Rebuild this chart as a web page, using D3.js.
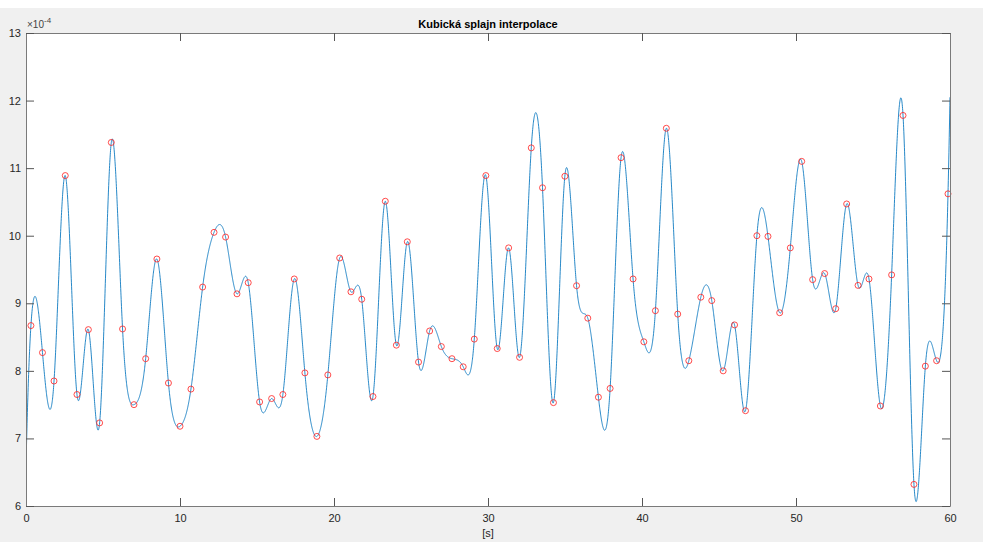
<!DOCTYPE html>
<html>
<head>
<meta charset="utf-8">
<script src="https://cdn.jsdelivr.net/npm/d3@7"></script>
<style>
  html, body { margin: 0; padding: 0; background: #ffffff; }
  svg { display: block; }
  text { font-family: "Liberation Sans", Arial, Helvetica, sans-serif; }
</style>
</head>
<body>
<svg id="chart" width="983" height="542"></svg>
<script>
// ---- data (y in units of 1e-4) ----
const timeValues = [
  0.32, 1.07, 1.82, 2.55, 3.31, 4.05, 4.78, 5.54, 6.27, 7.01,
  7.77, 8.50, 9.25, 10.00, 10.71, 11.47, 12.21, 12.96, 13.70, 14.43,
  15.17, 15.95, 16.68, 17.42, 18.11, 18.89, 19.60, 20.37, 21.10, 21.80,
  22.53, 23.33, 24.05, 24.76, 25.49, 26.21, 26.97, 27.66, 28.39, 29.11,
  29.86, 30.60, 31.34, 32.05, 32.81, 33.54, 34.25, 34.99, 35.75, 36.48,
  37.17, 37.93, 38.64, 39.42, 40.12, 40.87, 41.58, 42.32, 43.04, 43.82,
  44.53, 45.27, 46.01, 46.72, 47.46, 48.18, 48.94, 49.63, 50.37, 51.08,
  51.86, 52.58, 53.29, 54.03, 54.74, 55.48, 56.21, 56.95, 57.66, 58.40,
  59.13, 59.87
];
const sampleValues = [
  8.67, 8.27, 7.85, 10.89, 7.65, 8.61, 7.23, 11.38, 8.62, 7.50,
  8.18, 9.655, 7.82, 7.18, 7.73, 9.24, 10.05, 9.98, 9.14, 9.305,
  7.54, 7.59, 7.65, 9.36, 7.97, 7.03, 7.94, 9.67, 9.17, 9.06,
  7.62, 10.51, 8.38, 9.91, 8.13, 8.59, 8.36, 8.18, 8.06, 8.47,
  10.89, 8.33, 9.82, 8.20, 11.30, 10.71, 7.53, 10.88, 9.26, 8.78,
  7.61, 7.74, 11.155, 9.36, 8.43, 8.89, 11.59, 8.84, 8.15, 9.09,
  9.04, 8.00, 8.68, 7.41, 10.00, 9.99, 8.86, 9.82, 11.10, 9.35,
  9.44, 8.92, 10.47, 9.265, 9.36, 7.48, 9.42, 11.78, 6.32, 8.07,
  8.15, 10.62
];
const xTicks = [0, 10, 20, 30, 40, 50, 60];
const yTicks = [6, 7, 8, 9, 10, 11, 12, 13];
const xDomain = [0, 60];
const yDomain = [6, 13];
const titleText = "Kubická splajn interpolace";
const xLabelText = "[s]";

// ---- not-a-knot cubic spline (as MATLAB spline) ----
function notAKnotSpline(xs, ys) {
  const n = xs.length;
  const h = [];
  for (let i = 0; i < n - 1; i++) h.push(xs[i + 1] - xs[i]);
  const A = Array.from({length: n}, () => new Array(n).fill(0));
  const b = new Array(n).fill(0);
  A[0][0] = h[1]; A[0][1] = -(h[0] + h[1]); A[0][2] = h[0];
  for (let i = 1; i < n - 1; i++) {
    A[i][i - 1] = h[i - 1];
    A[i][i] = 2 * (h[i - 1] + h[i]);
    A[i][i + 1] = h[i];
    b[i] = 6 * ((ys[i + 1] - ys[i]) / h[i] - (ys[i] - ys[i - 1]) / h[i - 1]);
  }
  const m = n - 1;
  A[m][m - 2] = h[m - 1]; A[m][m - 1] = -(h[m - 2] + h[m - 1]); A[m][m] = h[m - 2];
  for (let c = 0; c < n; c++) {
    let p = c;
    for (let r = c + 1; r < n; r++) if (Math.abs(A[r][c]) > Math.abs(A[p][c])) p = r;
    [A[c], A[p]] = [A[p], A[c]]; [b[c], b[p]] = [b[p], b[c]];
    for (let r = c + 1; r < n; r++) {
      const f = A[r][c] / A[c][c];
      if (f === 0) continue;
      for (let k = c; k < n; k++) A[r][k] -= f * A[c][k];
      b[r] -= f * b[c];
    }
  }
  const M = new Array(n).fill(0);
  for (let r = n - 1; r >= 0; r--) {
    let s = b[r];
    for (let k = r + 1; k < n; k++) s -= A[r][k] * M[k];
    M[r] = s / A[r][r];
  }
  return function(x) {
    let i = 0;
    if (x <= xs[0]) i = 0;
    else if (x >= xs[n - 1]) i = n - 2;
    else { while (i < n - 2 && x > xs[i + 1]) i++; }
    const hi = h[i], a = xs[i + 1] - x, bb = x - xs[i];
    return M[i] * a * a * a / (6 * hi) + M[i + 1] * bb * bb * bb / (6 * hi)
      + (ys[i] / hi - M[i] * hi / 6) * a + (ys[i + 1] / hi - M[i + 1] * hi / 6) * bb;
  };
}

// ---- layout ----
const W = 983, H = 542;
const plot = {left: 26, right: 950, top: 33, bottom: 506};
const svg = d3.select("#chart");

svg.append("rect").attr("x", 0).attr("y", 8).attr("width", W).attr("height", H - 8).attr("fill", "#f0f0f0");
svg.append("rect").attr("x", plot.left).attr("y", plot.top)
  .attr("width", plot.right - plot.left).attr("height", plot.bottom - plot.top).attr("fill", "#ffffff");

const x = d3.scaleLinear().domain(xDomain).range([plot.left, plot.right]);
const y = d3.scaleLinear().domain(yDomain).range([plot.bottom, plot.top]);

const S = notAKnotSpline(timeValues, sampleValues);
const curve = [];
const nSteps = 6000;
for (let k = 0; k <= nSteps; k++) {
  const t = xDomain[0] + (xDomain[1] - xDomain[0]) * k / nSteps;
  curve.push([t, S(t)]);
}
svg.append("defs").append("clipPath").attr("id", "clip").append("rect")
  .attr("x", plot.left).attr("y", plot.top)
  .attr("width", plot.right - plot.left).attr("height", plot.bottom - plot.top);

svg.append("path").datum(curve)
  .attr("clip-path", "url(#clip)")
  .attr("fill", "none").attr("stroke", "#0072BD").attr("stroke-width", 0.85)
  .attr("d", d3.line().x(d => x(d[0])).y(d => y(d[1])));

svg.append("g").selectAll("circle").data(timeValues.map((t, i) => [t, sampleValues[i]]))
  .join("circle")
  .attr("cx", d => x(d[0])).attr("cy", d => y(d[1])).attr("r", 3)
  .attr("fill", "none").attr("stroke", "#ff2020").attr("stroke-width", 0.8);

const axisColor = "#262626";
const tickLen = 8;
function styleAxis(g) {
  g.select(".domain").attr("stroke", "#7a7a7a");
  g.selectAll(".tick line").attr("stroke", "#555");
  g.selectAll(".tick text").attr("fill", axisColor).attr("font-size", "11px")
    .attr("font-family", "'Liberation Sans', Arial, sans-serif");
}
svg.append("g").attr("transform", `translate(0,${plot.bottom})`)
  .call(d3.axisBottom(x).tickValues(xTicks).tickFormat(d3.format("d")).tickSizeInner(-tickLen).tickSizeOuter(0).tickPadding(8.5))
  .call(styleAxis);
svg.append("g").attr("transform", `translate(0,${plot.top})`)
  .call(d3.axisTop(x).tickValues(xTicks).tickFormat("").tickSizeInner(-tickLen).tickSizeOuter(0))
  .call(styleAxis);
svg.append("g").attr("transform", `translate(${plot.left},0)`)
  .call(d3.axisLeft(y).tickValues(yTicks).tickFormat(d3.format("d")).tickSizeInner(-tickLen).tickSizeOuter(0).tickPadding(5))
  .call(styleAxis);
svg.append("g").attr("transform", `translate(${plot.right},0)`)
  .call(d3.axisRight(y).tickValues(yTicks).tickFormat("").tickSizeInner(-tickLen).tickSizeOuter(0))
  .call(styleAxis);

const expo = svg.append("text").attr("x", plot.left + 1).attr("y", 28)
  .attr("font-size", "10px").attr("fill", "#444");
expo.append("tspan").text("×10");
expo.append("tspan").attr("dy", -5).attr("font-size", "8px").text("-4");

svg.append("text").attr("x", (plot.left + plot.right) / 2).attr("y", 28)
  .attr("text-anchor", "middle").attr("font-size", "11px").attr("font-weight", "bold")
  .attr("fill", "#000").text(titleText);

svg.append("text").attr("x", (plot.left + plot.right) / 2).attr("y", 537)
  .attr("text-anchor", "middle").attr("font-size", "11px").attr("fill", axisColor).text(xLabelText);
</script>
</body>
</html>
